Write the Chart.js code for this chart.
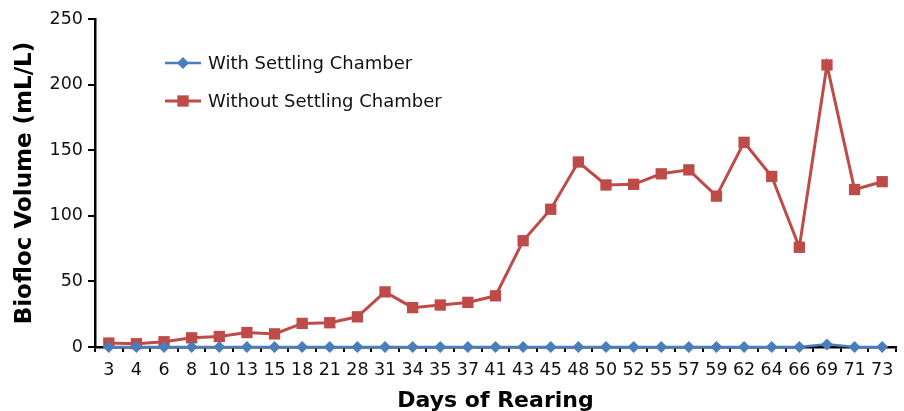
<!DOCTYPE html>
<html>
<head>
<meta charset="utf-8">
<script src="https://cdn.jsdelivr.net/npm/chart.js@4.4.1/dist/chart.umd.min.js"></script>
<style>
  html, body { margin: 0; padding: 0; background: #fff; }
  #wrap { width: 904px; height: 411px; }
</style>
</head>
<body>
<div id="wrap"><canvas id="chart"></canvas></div>
<script>
// Days of rearing (category axis)
const days = ['3', '4', '6', '8', '10', '13', '15', '18', '21', '28', '31', '34', '35', '37', '41',
  '43', '45', '48', '50', '52', '55', '57', '59', '62', '64', '66', '69', '71', '73'];

// Biofloc volume, mL/L
const withChamber = [0, 0, 0, 0, 0, 0, 0, 0, 0, 0, 0, 0, 0, 0, 0,
  0, 0, 0, 0, 0, 0, 0, 0, 0, 0, 0, 2, 0, 0];
const withoutChamber = [3, 2.5, 4, 7, 8, 11, 10, 18, 18.5, 23, 42, 30, 32, 34, 39,
  81, 105, 141, 123.5, 124, 132, 135, 115, 156, 130, 76, 215, 120, 126];

const yTicks = [0, 50, 100, 150, 200, 250];

const blue = '#4a7ebb';
const red = '#be4b48';
const sans = '"DejaVu Sans", Verdana, sans-serif';

// draws the legend as line + marker + text, inside the plot
const lineLegend = {
  id: 'lineLegend',
  afterDraw(chart) {
    const ctx = chart.ctx;
    const rows = [63, 101];
    ctx.save();
    chart.data.datasets.forEach((ds, i) => {
      const y = rows[i];
      ctx.strokeStyle = ds.borderColor;
      ctx.lineWidth = ds.borderWidth;
      ctx.beginPath();
      ctx.moveTo(165, y);
      ctx.lineTo(201, y);
      ctx.stroke();
      ctx.fillStyle = ds.pointBackgroundColor;
      Chart.helpers.drawPoint(ctx, {
        pointStyle: ds.pointStyle,
        radius: ds.pointRadius,
        borderWidth: 0
      }, 183, y);
      ctx.fillStyle = '#111';
      ctx.font = '18px ' + sans;
      ctx.textBaseline = 'middle';
      ctx.fillText(ds.label, 208, y + 1);
    });
    ctx.restore();
  }
};

new Chart(document.getElementById('chart'), {
  type: 'line',
  data: {
    labels: days,
    datasets: [
      {
        label: 'With Settling Chamber',
        data: withChamber,
        borderColor: blue,
        backgroundColor: blue,
        pointBackgroundColor: blue,
        borderWidth: 2.5,
        pointStyle: 'rectRot',
        pointRadius: 6,
        pointBorderWidth: 0,
        clip: false,
        tension: 0
      },
      {
        label: 'Without Settling Chamber',
        data: withoutChamber,
        borderColor: red,
        backgroundColor: red,
        pointBackgroundColor: red,
        borderWidth: 3,
        pointStyle: 'rect',
        pointRadius: 8,
        pointBorderWidth: 0,
        clip: false,
        tension: 0
      }
    ]
  },
  options: {
    responsive: true,
    maintainAspectRatio: false,
    animation: false,
    layout: { padding: { top: 19, right: 0, left: 0, bottom: 0 } },
    plugins: {
      legend: { display: false },
      tooltip: { enabled: false }
    },
    scales: {
      x: {
        offset: true,
        afterFit: (scale) => { scale.height = 64; },
        grid: {
          offset: true,
          drawOnChartArea: false,
          color: '#000',
          lineWidth: 2,
          tickLength: 5
        },
        border: { color: '#000', width: 2.5 },
        ticks: {
          color: '#111',
          padding: 8,
          maxRotation: 0,
          autoSkip: false,
          font: { family: sans, size: 17.5 }
        },
        title: {
          display: true,
          text: 'Days of Rearing',
          color: '#000',
          padding: { top: 0, bottom: -3 },
          font: { family: sans, size: 22, weight: 'bold' }
        }
      },
      y: {
        min: 0,
        max: 250,
        afterFit: (scale) => { scale.width = 95; },
        afterBuildTicks: (scale) => { scale.ticks = yTicks.map(v => ({ value: v })); },
        grid: {
          drawOnChartArea: false,
          color: '#000',
          lineWidth: 2,
          tickLength: 7
        },
        border: { color: '#000', width: 2.5 },
        ticks: {
          color: '#111',
          padding: 5,
          font: { family: sans, size: 17.5 }
        },
        title: {
          display: true,
          text: 'Biofloc Volume (mL/L)',
          color: '#000',
          padding: { top: 11, bottom: 0 },
          font: { family: sans, size: 23, weight: 'bold' }
        }
      }
    }
  },
  plugins: [lineLegend]
});
</script>
</body>
</html>
